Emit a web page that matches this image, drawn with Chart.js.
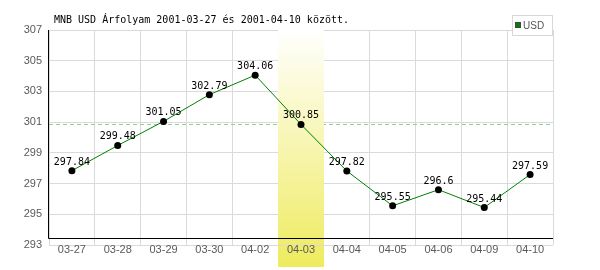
<!DOCTYPE html>
<html>
<head>
<meta charset="utf-8">
<script src="https://cdn.jsdelivr.net/npm/chart.js@4/dist/chart.umd.min.js"></script>
<style>
  html, body { margin: 0; padding: 0; background: #fff; }
  #wrap { width: 600px; height: 270px; position: relative; }
</style>
</head>
<body>
<div id="wrap"><canvas id="arfolyamChart" width="600" height="270"></canvas></div>
<script>
// adatok
const napok = ['03-27', '03-28', '03-29', '03-30', '04-02', '04-03', '04-04', '04-05', '04-06', '04-09', '04-10'];
const usdErtekek = [297.84, 299.48, 301.05, 302.79, 304.06, 300.85, 297.82, 295.55, 296.6, 295.44, 297.59];
const yTicks = [293, 295, 297, 299, 301, 303, 305, 307];
const kiemeltNap = '04-03';
const cim = 'MNB USD Árfolyam 2001-03-27 és 2001-04-10 között.';
const jelmagyarazat = 'USD';

const kiemeltIndex = napok.indexOf(kiemeltNap);
const referenciaErtek = usdErtekek[kiemeltIndex];

// kiemelt sáv rajzolása (sárga színátmenet)
function savRajzol(chart, top, bottom) {
    const { ctx, scales: { x } } = chart;
    const half = (x.getPixelForValue(1) - x.getPixelForValue(0)) / 2;
    const cx = x.getPixelForValue(kiemeltIndex);
    const grad = ctx.createLinearGradient(0, chart.chartArea.top, 0, 267);
    grad.addColorStop(0, '#ffffff');
    grad.addColorStop(1, '#eeeb5e');
    ctx.save();
    ctx.fillStyle = grad;
    ctx.fillRect(Math.round(cx - half), top, Math.round(half * 2), bottom - top);
    ctx.restore();
}

const rajzPlugin = {
    id: 'rajzPlugin',
    beforeDraw(chart) {
        // sáv alsó része a címkék alatt
        savRajzol(chart, chart.chartArea.bottom, 267);
    },
    beforeDatasetsDraw(chart) {
        const { ctx, chartArea: a, scales: { x, y } } = chart;
        // referencia vonal
        const ry = Math.round(y.getPixelForValue(referenciaErtek)) + 0.5;
        ctx.save();
        ctx.strokeStyle = '#8fd28f';
        ctx.lineWidth = 1;
        ctx.setLineDash([4, 3]);
        ctx.beginPath();
        ctx.moveTo(a.left, ry);
        ctx.lineTo(a.right, ry);
        ctx.stroke();
        ctx.restore();

        savRajzol(chart, a.top, a.bottom);

        // tengelyek
        const axisY = Math.round(y.getPixelForValue(293.45)) + 0.5;
        ctx.save();
        ctx.strokeStyle = '#000';
        ctx.lineWidth = 1;
        ctx.beginPath();
        ctx.moveTo(a.left - 0.5, a.top);
        ctx.lineTo(a.left - 0.5, axisY);
        ctx.lineTo(a.right, axisY);
        ctx.stroke();
        ctx.restore();
    },
    afterDatasetsDraw(chart) {
        const { ctx } = chart;
        const meta = chart.getDatasetMeta(0);
        ctx.save();
        ctx.font = '10px "DejaVu Sans Mono"';
        ctx.fillStyle = '#000';
        ctx.textAlign = 'center';
        ctx.textBaseline = 'alphabetic';
        meta.data.forEach((pt, i) => {
            ctx.fillText(String(usdErtekek[i]), pt.x, pt.y - 6);
        });
        ctx.restore();
    },
    afterDraw(chart) {
        const { ctx } = chart;
        ctx.save();
        // cím
        ctx.font = '10px "DejaVu Sans Mono"';
        ctx.fillStyle = '#000';
        ctx.textAlign = 'left';
        ctx.textBaseline = 'alphabetic';
        ctx.fillText(cim, 54, 23);

        // jelmagyarázat doboz
        ctx.fillStyle = '#fff';
        ctx.fillRect(512, 15, 41, 21);
        ctx.strokeStyle = '#d8d8d8';
        ctx.lineWidth = 1;
        ctx.strokeRect(512.5, 15.5, 40, 20);
        ctx.fillStyle = '#008000';
        ctx.fillRect(515, 22, 6, 6);
        ctx.strokeStyle = '#444';
        ctx.strokeRect(515.5, 22.5, 5, 5);
        ctx.fillStyle = '#555';
        ctx.font = '10px "Liberation Sans"';
        ctx.fillText(jelmagyarazat, 523, 29);
        ctx.restore();
    }
};

new Chart(document.getElementById('arfolyamChart'), {
    type: 'line',
    data: {
        labels: napok,
        datasets: [{
            label: jelmagyarazat,
            data: usdErtekek,
            borderColor: '#008000',
            borderWidth: 1,
            pointBackgroundColor: '#000',
            pointBorderColor: '#000',
            pointRadius: 3.5,
            pointBorderWidth: 0,
            tension: 0,
            fill: false
        }]
    },
    options: {
        responsive: false,
        animation: false,
        events: [],
        layout: { padding: { left: 0, right: 47, top: 30, bottom: 0 } },
        plugins: {
            legend: { display: false },
            title: { display: false },
            tooltip: { enabled: false }
        },
        scales: {
            x: {
                offset: true,
                grid: { offset: true, color: '#dadada', drawTicks: false },
                border: { display: false },
                ticks: {
                    autoSkip: false,
                    maxRotation: 0,
                    padding: -2,
                    color: '#5a5a5a',
                    font: { family: 'Liberation Sans', size: 11 }
                },
                afterFit(scale) { scale.height = 25; }
            },
            y: {
                min: 293,
                max: 307,
                afterBuildTicks(scale) { scale.ticks = yTicks.map(v => ({ value: v })); },
                grid: { color: '#dadada', drawTicks: false },
                border: { display: false },
                ticks: {
                    padding: 7,
                    color: '#5a5a5a',
                    font: { family: 'Liberation Sans', size: 11 }
                },
                afterFit(scale) { scale.width = 49; }
            }
        }
    },
    plugins: [rajzPlugin]
});
</script>
</body>
</html>
